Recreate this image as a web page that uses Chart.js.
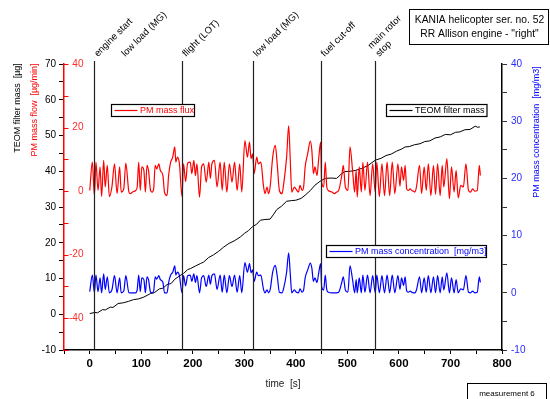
<!DOCTYPE html>
<html>
<head>
<meta charset="utf-8">
<script src="https://cdn.jsdelivr.net/npm/chart.js@4.4.0/dist/chart.umd.min.js"></script>
<style>
html,body{margin:0;padding:0;background:#fff;overflow:hidden}
#wrap{width:550px;height:399px;position:relative}
</style>
</head>
<body>
<div id="wrap"><canvas id="c" width="550" height="399"></canvas></div>
<script>
// ---------------- data ----------------
const sampleTime = [0,5,9,12,16,20,23,27,30,34,38,43,48,53,58,61,66,70,76,79,83,89,92,95,98,101,105,108,111,114,118,121,124,127,130,134,137,142,145,150,153,157,161,165,167,170,174,179,182,186,190,195,198,202,205,208,213,217,221,226,231,234,237,242,247,253,257,261,266,271,276,281,286,291,295,301,306,310,313,316,319,324,327,332,337,340,344,347,350,355,360,364,368,373,376,382,386,389,392,397,400,405,408,412,415,418,423,428,431,434,437,441,444,448,450,454,457,460,463,470,475,479,483,489,492,496,501,505,510,514,517,519,523,527,530,534,539,544,549,554,557,562,567,572,577,582,587,592,598,602,605,609,612,615,618,622,625,628,631,634,640,644,649,653,657,662,667,671,675,680,684,687,693,698,702,707,711,715,720,725,730,735,739,743,747,752,756,758];
const massFlux = [0.2,9.1,-1.4,9.1,0.2,7.6,-1.7,9.7,1.3,8.1,-1.7,1.3,8.6,-0.8,7.6,-0.3,0.7,8.8,-0.3,-0.8,-0.3,0.2,1.3,9.1,0.2,7.6,6.5,-0.3,8.1,6.5,0.2,-0.3,0.7,8.1,7.0,8.6,6.5,4.9,-0.3,-1.4,4.9,9.1,10.7,13.9,9.1,10.7,8.6,-1.7,8.6,3.0,8.8,9.1,5.5,9.7,4.9,8.6,-1.9,7.6,8.6,2.8,9.1,4.0,8.6,9.7,1.3,9.1,0.2,9.1,-0.3,8.6,2.8,9.1,0.2,8.6,-0.3,15.9,10.7,15.4,10.2,11.7,5.5,10.7,8.6,9.1,1.8,-0.8,1.3,-0.8,1.3,10.7,14.4,8.1,0.2,-0.8,1.8,10.7,20.5,10.2,-0.3,1.3,0.7,-0.3,1.8,0.2,1.3,7.6,11.8,15.7,12.8,5.5,7.6,4.9,9.7,15.4,2.8,1.3,9.1,1.3,0.2,-0.3,-0.8,-0.3,0.2,4.9,8.1,1.3,0.2,13.9,6.5,-0.3,6.5,-1.9,7.6,-0.3,9.1,0.2,9.1,-1.4,8.6,-0.3,9.1,-1.7,8.6,-1.4,9.1,-1.4,9.1,-0.8,8.6,1.5,7.6,3.4,8.1,0.7,0.2,0.7,0.2,0.0,-0.3,1.3,8.1,-0.8,7.6,0.2,8.6,-1.4,8.1,-1.0,8.6,-1.4,8.1,1.3,10.2,-2.4,7.6,-0.3,6.5,-2.1,1.8,1.3,8.6,0.2,-0.3,0.7,0.0,0.2,8.1,4.9];
const massConc = [0.2,3.1,0,3.1,0.2,2.6,0,3.3,0.6,2.8,0,0.5,3.0,0,2.6,0,0.3,3.0,0,0,0,0,0.5,3.1,0.2,2.6,2.3,0,2.8,2.3,0.1,0,0.3,2.8,2.4,3.0,2.3,1.8,0,0,1.8,3.1,3.6,4.7,3.1,3.6,3.0,0,3.0,1.2,3.0,3.1,2.0,3.3,1.8,3.0,0,2.6,3.0,1.1,3.1,1.5,3.0,3.3,0.6,3.1,0.1,3.1,0,3.0,1.1,3.1,0.1,3.0,0,5.3,3.6,5.1,3.5,4.0,2.0,3.6,3.0,3.1,0.7,0,0.5,0,0.5,3.6,4.8,2.8,0.1,0,0.7,3.6,7.0,3.5,0,0.5,0.2,0,0.7,0.1,0.5,2.6,4.0,5.2,4.3,2.0,2.6,1.8,3.3,5.1,1.1,0.5,3.1,0.5,0.1,0,0,0,0.1,1.8,2.8,0.5,0.1,4.7,2.3,0,2.3,0,2.6,0,3.1,0.1,3.1,0,3.0,0,3.1,0,3.0,0,3.1,0,3.1,0,3.0,0.6,2.6,1.3,2.8,0.3,0.1,0.3,0.1,0,0,0.5,2.8,0,2.6,0.1,3.0,0,2.8,0,3.0,0,2.8,0.5,3.5,0,2.6,0,2.3,0,0.7,0.5,3.0,0.1,0,0.3,0,0.1,2.8,1.8];
const teomTime = [0,10,15,25,30,40,45,55,65,75,85,95,105,118,125,135,142,150,158,165,175,182,190,196,205,215,221,230,240,250,260,270,280,292,300,308,316,324,331,340,350,356,363,372,382,392,400,410,418,428,437,447,457,468,479,488,495,505,515,528,540,554,565,575,585,595,605,612,620,630,641,650,660,670,680,690,700,710,718,728,738,748,753,757];
const teomMass = [0.2,0.5,0.4,1.3,1.2,2.0,1.9,3.0,3.2,3.6,4.1,4.3,4.8,5.8,6.0,7.1,7.3,8.3,8.6,9.8,10.8,11.4,12.5,12.8,13.5,14.2,14.6,15.8,16.6,17.6,18.8,19.8,20.5,21.6,22.6,23.4,24.5,25.2,26.3,26.5,26.6,27.8,29.3,30.2,31.6,31.8,31.9,32.4,33.3,34.6,36.1,37.2,38.0,38.1,38.0,39.2,39.9,40.0,40.2,40.8,41.6,43.1,43.6,44.4,44.8,45.6,46.2,46.8,46.9,47.4,47.7,48.3,48.5,49.3,49.6,50.3,50.2,50.9,51.0,51.6,51.7,52.6,52.3,52.4];
const eventTimes = [8, 61, 179, 317, 448, 554];
const eventLabels = ['engine start', 'low load (MG)', 'flight (LOT)', 'low load (MG)', 'fuel cut-off', 'main rotor\nstop'];
const eventHasLine = [true, false, true, true, true, true];
const fluxTicks = [-50, -40, -30, -20, -10, 0, 10, 20, 30, 40];
const xTitle = 'time  [s]';
const massTitle = 'TEOM filter mass  [\u00b5g]';
const fluxTitle = 'PM mass flow  [\u00b5g/min]';
const concTitle = 'PM mass concentration  [mg/m3]';
const infoLines = ['KANIA helicopter ser. no. 52', 'RR Allison engine - "right"'];
const noteText = 'measurement 6';

// ---------------- chart ----------------
const FONT = '"Liberation Sans", Arial, Helvetica, sans-serif';
const RED = '#ff0000', BLUE = '#0000ff';

const overlay = {
  id: 'overlay',
  afterDatasetsDraw(chart) {
    const ctx = chart.ctx, x = chart.scales.x, yF = chart.scales.yFlux, a = chart.chartArea;
    ctx.save();
    // red inward ticks of the flow axis
    ctx.strokeStyle = RED; ctx.lineWidth = 1;
    fluxTicks.forEach(v => {
      const py = Math.round(yF.getPixelForValue(v)) + 0.5;
      ctx.beginPath(); ctx.moveTo(a.left, py); ctx.lineTo(a.left + 4.5, py); ctx.stroke();
    });
    // event lines
    ctx.strokeStyle = '#222'; ctx.lineWidth = 1.2;
    eventTimes.forEach((t, i) => {
      if (!eventHasLine[i]) return;
      const px = Math.round(x.getPixelForValue(t)) + 0.5;
      ctx.beginPath(); ctx.moveTo(px, a.top - 3); ctx.lineTo(px, a.bottom); ctx.stroke();
    });
    // event labels
    ctx.font = '9.5px ' + FONT; ctx.fillStyle = '#000';
    ctx.textAlign = 'left'; ctx.textBaseline = 'alphabetic';
    const lh = 11, d = 0.7071;
    eventTimes.forEach((t, i) => {
      const lines = eventLabels[i].split('\n');
      const ox0 = x.getPixelForValue(t) + 4, oy0 = a.top - 7;
      lines.forEach((ln, j) => {
        const k = lines.length - 1 - j;
        ctx.save();
        ctx.translate(ox0 - k * lh * d, oy0 - k * lh * d);
        ctx.rotate(-Math.PI / 4);
        ctx.fillText(ln, 0, 0);
        ctx.restore();
      });
    });
    // axis titles
    function vtext(txt, cx, cy, color) {
      ctx.save(); ctx.translate(cx, cy); ctx.rotate(-Math.PI / 2);
      ctx.fillStyle = color; ctx.textAlign = 'center'; ctx.textBaseline = 'middle';
      ctx.fillText(txt, 0, 0); ctx.restore();
    }
    ctx.font = '9px ' + FONT;
    vtext(massTitle, 17.5, 108, '#000');
    vtext(fluxTitle, 35, 110, RED);
    vtext(concTitle, 536.5, 132, BLUE);
    ctx.font = '10px ' + FONT; ctx.fillStyle = '#222'; ctx.textAlign = 'center'; ctx.textBaseline = 'middle';
    ctx.fillText(xTitle, (a.left + a.right) / 2, 384);
    // legends
    const ds = chart.data.datasets;
    function legend(x1, y1, x2, y2, dsIndex, textColor) {
      ctx.fillStyle = '#fff'; ctx.fillRect(x1, y1, x2 - x1, y2 - y1);
      ctx.strokeStyle = '#000'; ctx.lineWidth = 1.2; ctx.strokeRect(x1, y1, x2 - x1, y2 - y1);
      const my = (y1 + y2) / 2;
      ctx.strokeStyle = ds[dsIndex].borderColor; ctx.lineWidth = 1.2;
      ctx.beginPath(); ctx.moveTo(x1 + 3, my); ctx.lineTo(x1 + 26, my); ctx.stroke();
      ctx.font = '9px ' + FONT; ctx.fillStyle = textColor; ctx.textAlign = 'left'; ctx.textBaseline = 'middle';
      ctx.fillText(ds[dsIndex].label, x1 + 28.5, my + 0.5);
    }
    legend(111.5, 104.5, 194.5, 116.5, 1, RED);
    legend(386.5, 104.5, 487, 116.5, 0, '#000');
    legend(326.5, 245.5, 486.5, 257.5, 2, BLUE);
    // info box
    ctx.fillStyle = '#fff'; ctx.fillRect(409.5, 9.5, 139, 35);
    ctx.strokeStyle = '#000'; ctx.lineWidth = 1; ctx.strokeRect(409.5, 9.5, 139, 35);
    ctx.font = '10.3px ' + FONT; ctx.fillStyle = '#000'; ctx.textAlign = 'center'; ctx.textBaseline = 'middle';
    ctx.fillText(infoLines[0], 479.5, 20.5);
    ctx.fillText(infoLines[1], 479.5, 34.5);
    // note box
    ctx.strokeRect(467.5, 383.5, 79, 20);
    ctx.font = '8px ' + FONT;
    ctx.fillText(noteText, 507, 393.5);
    ctx.restore();
  }
};

const pts = (xs, ys) => xs.map((t, i) => ({ x: t, y: ys[i] }));

new Chart(document.getElementById('c'), {
  type: 'line',
  data: {
    datasets: [
      { label: 'TEOM filter mass', data: pts(teomTime, teomMass), yAxisID: 'yMass',
        borderColor: '#000', borderWidth: 1, pointRadius: 0, tension: 0, order: 3 },
      { label: 'PM mass flux', data: pts(sampleTime, massFlux), yAxisID: 'yFlux',
        borderColor: RED, borderWidth: 1.2, pointRadius: 0, cubicInterpolationMode: 'monotone', order: 2 },
      { label: 'PM mass concentration  [mg/m3]', data: pts(sampleTime, massConc), yAxisID: 'yConc',
        borderColor: BLUE, borderWidth: 1.2, pointRadius: 0, cubicInterpolationMode: 'monotone', order: 1 }
    ]
  },
  options: {
    responsive: false,
    animation: false,
    devicePixelRatio: 1,
    layout: { padding: { top: 64, left: 0, right: 0, bottom: 0 } },
    plugins: { legend: { display: false }, tooltip: { enabled: false } },
    scales: {
      x: {
        type: 'linear', position: 'bottom', min: -50, max: 800,
        ticks: { stepSize: 50, autoSkip: false, maxRotation: 0, padding: 3, color: '#000',
          font: { family: FONT, size: 11.5, weight: 'bold' },
          callback: v => (v % 100 === 0 ? String(v) : '') },
        grid: { drawOnChartArea: false, drawTicks: true, tickLength: 4, color: '#000', lineWidth: 1 },
        border: { display: true, color: '#000', width: 1.6 },
        afterFit: s => { s.height = 49; }
      },
      yMass: {
        type: 'linear', position: 'left', weight: 1, min: -10, max: 70,
        ticks: { stepSize: 5, autoSkip: false, padding: 3, color: '#000',
          font: { family: FONT, size: 10 },
          callback: v => (v % 10 === 0 ? String(v) : '') },
        grid: { drawOnChartArea: false, drawTicks: true, tickLength: 5, color: '#000', lineWidth: 1 },
        border: { display: false },
        afterFit: s => { s.width = 64; }
      },
      yFlux: {
        type: 'linear', position: 'left', weight: 0, min: -50, max: 40,
        ticks: { stepSize: 10, autoSkip: false, mirror: true, crossAlign: 'far', padding: 5, color: '#ff2a2a',
          font: { family: FONT, size: 10 },
          callback: v => (v % 20 === 0 ? String(v) : '') },
        grid: { drawOnChartArea: false, drawTicks: false, color: RED, lineWidth: 1 },
        border: { display: true, color: RED, width: 1.5 },
        afterFit: s => { s.width = 0; }
      },
      yConc: {
        type: 'linear', position: 'right', min: -10, max: 40,
        ticks: { stepSize: 5, autoSkip: false, padding: 4, color: '#2a2aff',
          font: { family: FONT, size: 10 },
          callback: v => (v % 10 === 0 ? String(v) : '') },
        grid: { drawOnChartArea: false, drawTicks: true, tickLength: 5, color: '#333', lineWidth: 1 },
        border: { display: true, color: '#000', width: 1.5 },
        afterFit: s => { s.width = 48; }
      }
    }
  },
  plugins: [overlay]
});
</script>
</body>
</html>
